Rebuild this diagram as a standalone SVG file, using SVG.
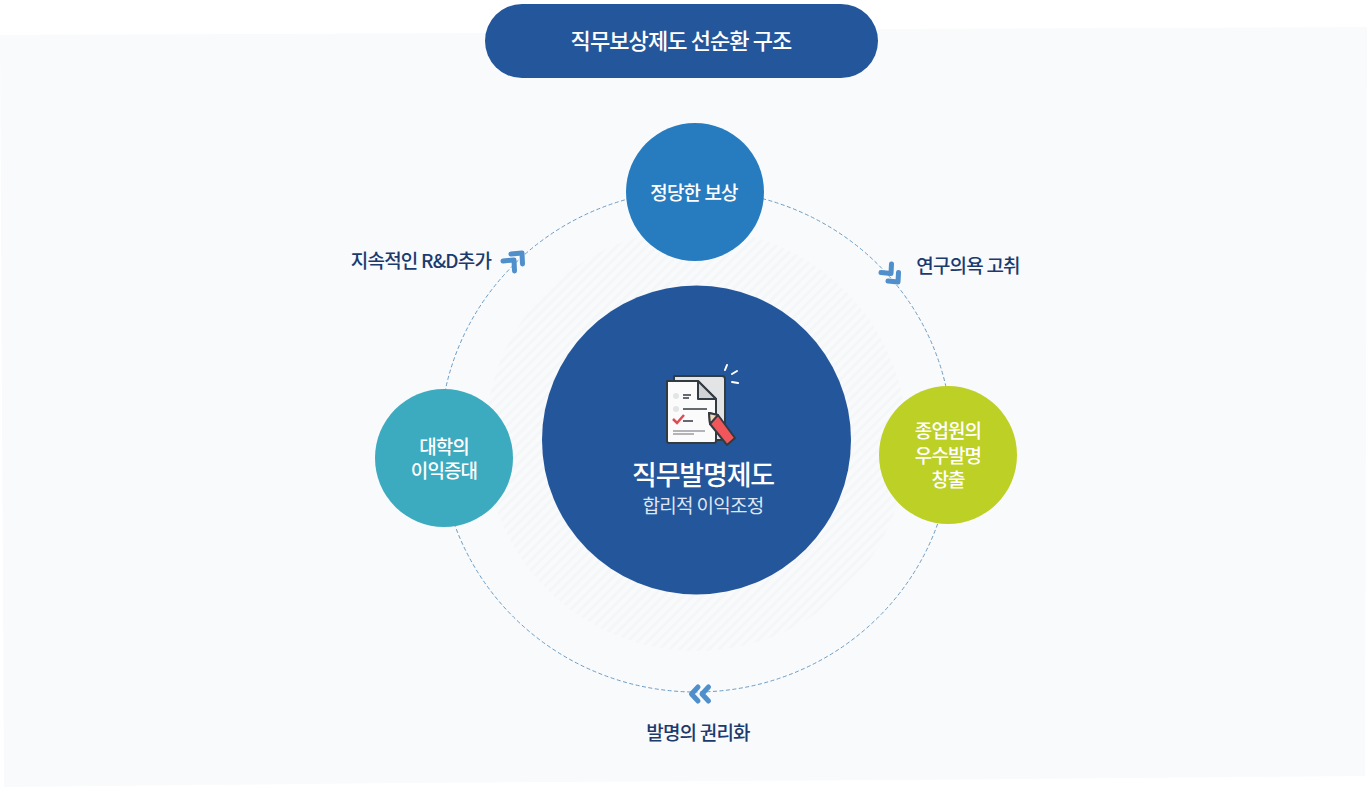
<svg xmlns="http://www.w3.org/2000/svg" width="1367" height="787" viewBox="0 0 1367 787">
<style>
text{font-family:"Noto Sans CJK KR","Noto Sans",sans-serif;text-anchor:middle}
.w{fill:#fff;font-weight:500}
.d{fill:#1c3a6e;font-size:19px;font-weight:500;letter-spacing:-.8px}
.n{font-family:"Liberation Sans","Noto Sans CJK KR",sans-serif;font-size:19px;letter-spacing:-.9px}
.chev{fill:none;stroke:#4f8fcb;stroke-width:5;stroke-linejoin:round;stroke-linecap:round}
.ic{stroke:#333b42;stroke-width:2;stroke-linejoin:round}
</style>
<defs>
<pattern id="h" width="7" height="7" patternUnits="userSpaceOnUse" patternTransform="rotate(45)">
<rect width="7" height="7" fill="#f8fafc"/><rect width="3" height="7" fill="#f4f6f8"/>
</pattern>
</defs>
<rect width="1367" height="787" fill="#fff"/>
<polygon points="0,35 500,33 880,29 1367,27 1365,776 900,780 400,783 4,787" fill="#f8fafc"/>
<circle cx="696" cy="440" r="211" fill="url(#h)"/>
<g id="connectors">
<ellipse cx="696" cy="441" rx="256" ry="251" fill="none" stroke="#6d9cc4" stroke-width="1" stroke-dasharray="4 2.500"/>
<g id="arrow-right">
<path class="chev" d="M881,272.500L891,273.500L891.500,264"/><path class="chev" d="M888,281L898,282L898.500,272.500"/></g>
<g id="arrow-left">
<path class="chev" d="M503,261L514,260L514.500,271"/><path class="chev" d="M511,254L522,253L522.500,264"/></g>
<g id="arrow-bottom">
<path class="chev" d="M698,687L691.500,694L698,701"/><path class="chev" d="M708.500,687L702,694L708.500,701"/></g>
</g>
<g id="title">
<rect x="485" y="4" width="393" height="74" rx="37" fill="#24569c"/>
<text class="w" x="681" y="49" font-size="22" letter-spacing="-.9">직무보상제도 선순환 구조</text>
</g>
<g id="node-center">
<circle cx="696.500" cy="440" r="154.500" fill="#24569c"/>
<g id="icon">
<path class="ic" d="M674,376H722Q725,376 725,379V440H674Z" fill="#e3e4e6"/>
<path class="ic" d="M667,381H698L716,399V441Q716,443 714,443H669Q667,443 667,441Z" fill="#fbfbfb"/>
<path class="ic" d="M698,381L716,399H698Z" fill="#d2d3d5"/>
<circle cx="676" cy="396" r="3" fill="#e3e4e6"/><circle cx="676" cy="409" r="3" fill="#e3e4e6"/>
<path d="M683,395H691M683,398H689M683,409H707M683,421H693" stroke="#333b42" stroke-width="1.500"/>
<path d="M673,419L677,423L684,415" fill="none" stroke="#e04a50" stroke-width="2.500"/>
<path d="M673,431H705" stroke="#9a9da1" stroke-width="1.500"/><path d="M673,434H694" stroke="#9a9da1" stroke-width="1.500"/>
<path class="ic" d="M709,413L718,415L735,438L727,445L710,424Z" fill="#f0565a"/>
<path class="ic" d="M709,413L718,415L710,424Z" fill="#f3d9b9"/>
<path d="M725,370L727,365M732,374L737,371M732,382L738,383" stroke="#fff" stroke-width="2" stroke-linecap="round"/>
</g>
<text class="w" x="703" y="485" font-size="27" font-weight="700" letter-spacing="-1.200">직무발명제도</text>
<text x="703" y="513" font-size="19" fill="#dfe6f1" letter-spacing="-.7">합리적 이익조정</text>
</g>
<g id="node-top">
<circle cx="695" cy="192" r="69" fill="#277cc0"/>
<text class="w n" x="694" y="200">정당한 보상</text>
</g>
<g id="node-left">
<circle cx="444" cy="458" r="69" fill="#3caabf"/>
<text class="w n" x="444" y="454">대학의</text>
<text class="w n" x="444" y="478">이익증대</text>
</g>
<g id="node-right">
<circle cx="948" cy="455" r="69" fill="#bdd025"/>
<text class="w n" x="948" y="438">종업원의</text>
<text class="w n" x="948" y="463">우수발명</text>
<text class="w n" x="948" y="487">창출</text>
</g>
<text class="d" x="421" y="268">지속적인 R&amp;D추가</text>
<text class="d" x="968" y="273">연구의욕 고취</text>
<text class="d" x="698" y="740">발명의 권리화</text>
</svg>
